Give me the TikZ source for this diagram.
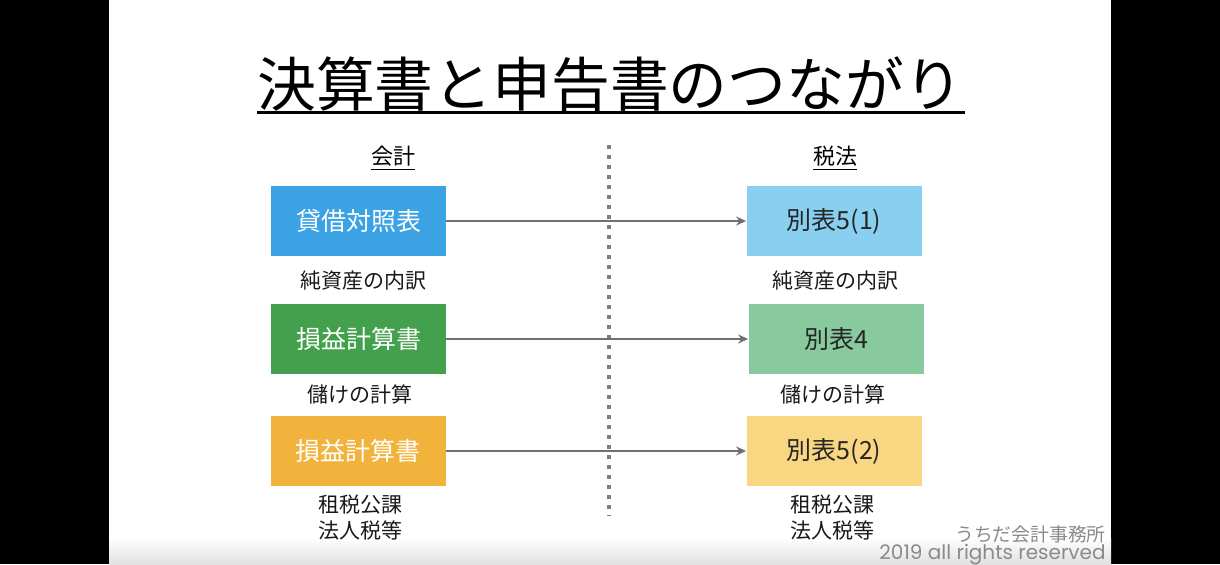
\documentclass[tikz,border=0pt]{standalone}
\usepackage{fontspec}
\setmainfont{Noto Sans CJK JP}
\newfontfamily\footfont{Poppins}
\usetikzlibrary{arrows.meta}

\definecolor{bsblue}{HTML}{3BA3E4}
\definecolor{plgreen}{HTML}{43A04C}
\definecolor{taxorange}{HTML}{F2B33D}
\definecolor{lightblue}{HTML}{89CFF0}
\definecolor{lightgreen}{HTML}{88CA9E}
\definecolor{lightyellow}{HTML}{F8D682}
\definecolor{linkgray}{HTML}{707070}
\definecolor{footgray}{HTML}{8A8A8A}

\begin{document}
\begin{tikzpicture}[x=0.5pt,y=-0.5pt,
		box/.style={minimum width=87.5pt,minimum height=35pt,inner sep=0pt,font=\fontsize{12.5}{14}\selectfont},
		link/.style={-{Stealth[length=5pt,width=4.5pt]},line width=1pt,draw=linkgray},
		note/.style={font=\fontsize{10.5}{13}\selectfont,align=center,inner sep=0pt,text=black!90},
		head/.style={font=\fontsize{11}{13}\selectfont,inner sep=0pt}]
				% frame
				\fill[black] (0,0) rectangle (1220,564);
				\fill[white] (109,0) rectangle (1111,564);
				\shade[top color=white,bottom color=black!12] (109,538) rectangle (1111,564);
				\useasboundingbox (0,0) rectangle (1220,564);

				% title
				\node[inner sep=0pt,font=\fontsize{29.4}{32}\selectfont] (title) at (610,84) {決算書と申告書のつながり};
				\draw[line width=1.5pt] (257,112) -- (965,112);

				% headings
				\node[head] (kaikei) at (393,158) {\underline{会計}};
				\node[head] (zeiho) at (835,158) {\underline{税法}};

				% separator
				\coordinate (septop) at (609,145);
				\coordinate (sepbot) at (609,516);
				\draw[linkgray!90,line width=2pt,dash pattern=on 2pt off 3pt] (septop) -- (sepbot);

				% accounting side
				\node[box,fill=bsblue,text=white] (bs) at (358.5,221) {貸借対照表};
				\node[box,fill=plgreen,text=white] (pl) at (358.5,339) {損益計算書};
				\node[box,fill=taxorange,text=white] (tax) at (358,451) {損益計算書};

				% tax side
				\node[box,fill=lightblue,text=black!85] (b51) at (834,221) {別表5(1)};
				\node[box,fill=lightgreen,text=black!85] (b4) at (836,339) {別表4};
				\node[box,fill=lightyellow,text=black!85] (b52) at (834,451) {別表5(2)};

				\draw[link] (bs) -- (b51);
				\draw[link] (pl) -- (b4);
				\draw[link] (tax) -- (b52);

				% notes
				\node[note] (n1) at (363,281) {純資産の内訳};
				\node[note] (n2) at (835,281) {純資産の内訳};
				\node[note] (n3) at (360,394) {儲けの計算};
				\node[note] (n4) at (833,394) {儲けの計算};
				\node[note] (n5) at (360,518) {租税公課\\法人税等};
				\node[note] (n6) at (832,518) {租税公課\\法人税等};

				% footer
				\node[anchor=east,inner sep=0pt,text=footgray,font=\fontsize{9.4}{11}\selectfont] (office) at (1106,534) {うちだ会計事務所};
				\node[anchor=east,inner sep=0pt,text=footgray,font=\footfont\fontsize{10}{11}\selectfont] (rights) at (1106,555) {2019 all rights reserved};
			\end{tikzpicture}
\end{document}
